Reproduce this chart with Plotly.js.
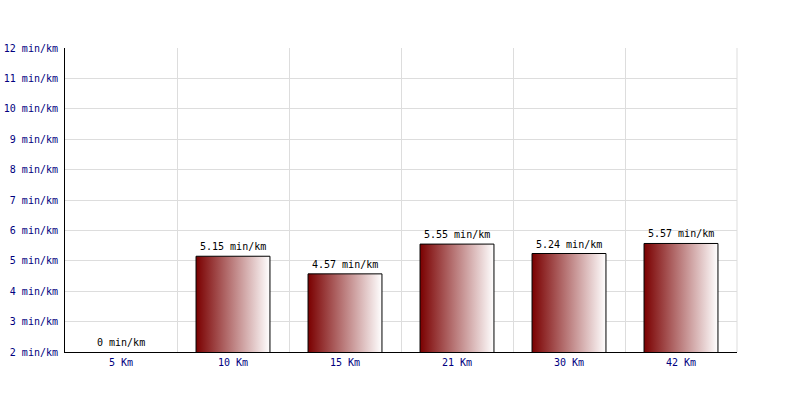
<!DOCTYPE html>
<html>
<head>
<meta charset="utf-8">
<script src="https://cdn.plot.ly/plotly-3.0.1.min.js"></script>
<style>html,body{margin:0;padding:0;background:#fff;}#chart{width:800px;height:400px;}</style>
</head>
<body>
<div id="chart"></div>
<script>
const categories = ["5 Km", "10 Km", "15 Km", "21 Km", "30 Km", "42 Km"];
const paces = [0, 5.15, 4.57, 5.55, 5.24, 5.57];
const paceLabels = ["0 min/km", "5.15 min/km", "4.57 min/km", "5.55 min/km", "5.24 min/km", "5.57 min/km"];
const yMin = 2, yMax = 12;

const font = {family: "DejaVu Sans Mono, monospace", size: 10, color: "#000080"};

const trace = {
  type: "bar",
  x: categories,
  y: paces,
  width: 0.66,
  marker: {color: "#800000", line: {color: "#000000", width: 1}},
  hoverinfo: "none"
};

const annotations = categories.map((c, i) => ({
  x: c,
  y: Math.max(paces[i], yMin),
  text: paceLabels[i],
  showarrow: false,
  yanchor: "bottom",
  yshift: 2,
  font: {family: "DejaVu Sans Mono, monospace", size: 10, color: "#000000"}
}));

const layout = {
  width: 800, height: 400,
  margin: {l: 65, r: 63, t: 48, b: 48},
  paper_bgcolor: "#ffffff",
  plot_bgcolor: "#ffffff",
  showlegend: false,
  font: font,
  xaxis: {
    type: "category",
    tickson: "boundaries",
    showgrid: true, gridcolor: "#dddddd", gridwidth: 1,
    showline: true, linecolor: "#000000", linewidth: 1,
    ticks: "", tickfont: font,
    ticklabelstandoff: 1,
    range: [-0.5, 5.5],
    zeroline: false
  },
  yaxis: {
    range: [yMin, yMax],
    dtick: 1,
    ticksuffix: " min/km",
    showgrid: true, gridcolor: "#dddddd", gridwidth: 1,
    showline: true, linecolor: "#000000", linewidth: 1,
    ticks: "", tickfont: font,
    ticklabelstandoff: 4,
    zeroline: false
  },
  shapes: [{
    type: "line", xref: "paper", yref: "paper",
    x0: 1, x1: 1, y0: 0, y1: 1,
    line: {color: "#dddddd", width: 1}, layer: "below"
  }],
  annotations: annotations
};

Plotly.newPlot("chart", [trace], layout, {staticPlot: true, displayModeBar: false}).then(gd => {
  const svg = gd.querySelector("svg.main-svg");
  const ns = "http://www.w3.org/2000/svg";
  let defs = svg.querySelector("defs");
  if (!defs) { defs = document.createElementNS(ns, "defs"); svg.insertBefore(defs, svg.firstChild); }
  const g = document.createElementNS(ns, "linearGradient");
  g.setAttribute("id", "barGrad");
  g.setAttribute("x1", "0"); g.setAttribute("y1", "0");
  g.setAttribute("x2", "1"); g.setAttribute("y2", "0");
  [["0", "#7a0000"], ["1", "#ffffff"]].forEach(([o, c]) => {
    const s = document.createElementNS(ns, "stop");
    s.setAttribute("offset", o); s.setAttribute("stop-color", c);
    g.appendChild(s);
  });
  defs.appendChild(g);
  gd.querySelectorAll(".bars .point path").forEach(p => {
    p.style.fill = "url(#barGrad)";
    p.style.fillOpacity = "1";
  });
});
</script>
</body>
</html>
